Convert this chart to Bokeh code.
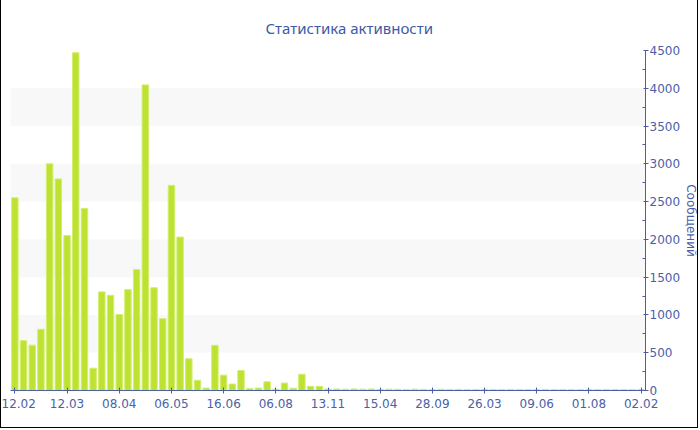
from bokeh.plotting import figure
from bokeh.models import FixedTicker, ColumnDataSource, Range1d, Title
from bokeh.embed import file_html
from bokeh.resources import INLINE

# Messages per period (73 periods)
messages = [
    2550, 660, 600, 810, 3000, 2800, 2050, 4470, 2410, 295,
    1305, 1260, 1005, 1335, 1600, 4045, 1360, 950, 2715, 2030,
    420, 136, 32, 598, 203, 85, 265, 25, 32, 115,
    18, 98, 30, 215, 55, 55,
    20, 20, 18, 20, 18, 20, 15, 18, 16, 14,
    18, 15, 12, 16, 14, 15, 12, 14, 16, 13,
    12, 15, 14, 12, 13, 15, 12, 14, 12, 13,
    15, 12, 14, 13, 12, 14, 15,
]
tick_labels = ["12.02", "12.03", "08.04", "06.05", "16.06", "06.08", "13.11",
               "15.04", "28.09", "26.03", "09.06", "01.08", "02.02"]
tick_step = 6
y_label = "Сообщений"

idx = list(range(len(messages)))
tick_pos = idx[::tick_step]
source = ColumnDataSource(data=dict(x=idx, y=messages))

TITLE_C = "#3d5aa6"
AXIS_C = "#4a5fa8"
FONT = "DejaVu Sans"

p = figure(width=698, height=428, output_backend="svg", toolbar_location=None,
           title="Статистика активности", y_axis_location="right",
           x_range=Range1d(-0.5, len(messages) - 0.5), y_range=Range1d(0, 4500),
           min_border_left=9, min_border_top=50, min_border_bottom=38, min_border_right=0)

p.vbar(x="x", top="y", width=0.74, source=source,
       fill_color="#bde232", line_color="#d2ee6e", line_width=1)

p.title.align = "left"
p.title.text_color = TITLE_C
p.title.text_font = "Noto Sans"
p.title.text_font_size = "15px"
p.title.text_font_style = "normal"
p.title.standoff = 25
p.title.offset = 255

p.outline_line_color = None
p.xgrid.visible = False
p.ygrid.grid_line_color = None
p.ygrid.band_fill_color = "#f8f8f8"
p.ygrid.band_fill_alpha = 1.0

xa = p.xaxis[0]
xa.ticker = FixedTicker(ticks=tick_pos)
xa.major_label_overrides = {pos: lab for pos, lab in zip(tick_pos, tick_labels)}
xa.axis_line_color = AXIS_C
xa.major_tick_line_color = AXIS_C
xa.major_tick_in = 3
xa.major_tick_out = 3
xa.minor_tick_line_color = None
xa.major_label_text_color = AXIS_C
xa.major_label_text_font = FONT
xa.major_label_text_font_size = "12px"
xa.major_label_standoff = 5

ya = p.yaxis[0]
ya.ticker = FixedTicker(ticks=list(range(0, 4501, 500)),
                        minor_ticks=list(range(250, 4500, 500)))
ya.axis_line_color = AXIS_C
ya.major_tick_line_color = AXIS_C
ya.minor_tick_line_color = AXIS_C
ya.major_tick_in = 2
ya.major_tick_out = 3
ya.minor_tick_in = 3
ya.minor_tick_out = 0
ya.major_label_text_color = AXIS_C
ya.major_label_text_font = FONT
ya.major_label_text_font_size = "12px"
ya.major_label_standoff = 1

ytitle = Title(text=y_label, align="center", text_color=AXIS_C, text_font=FONT,
               text_font_size="12px", text_font_style="normal", standoff=0, offset=0,
               text_line_height=1.0)
p.add_layout(ytitle, "right")

p.styles = {"border-left": "1px solid black", "border-right": "1px solid black",
            "border-bottom": "1px solid black"}

open("out.html", "w").write(file_html(p, INLINE))
